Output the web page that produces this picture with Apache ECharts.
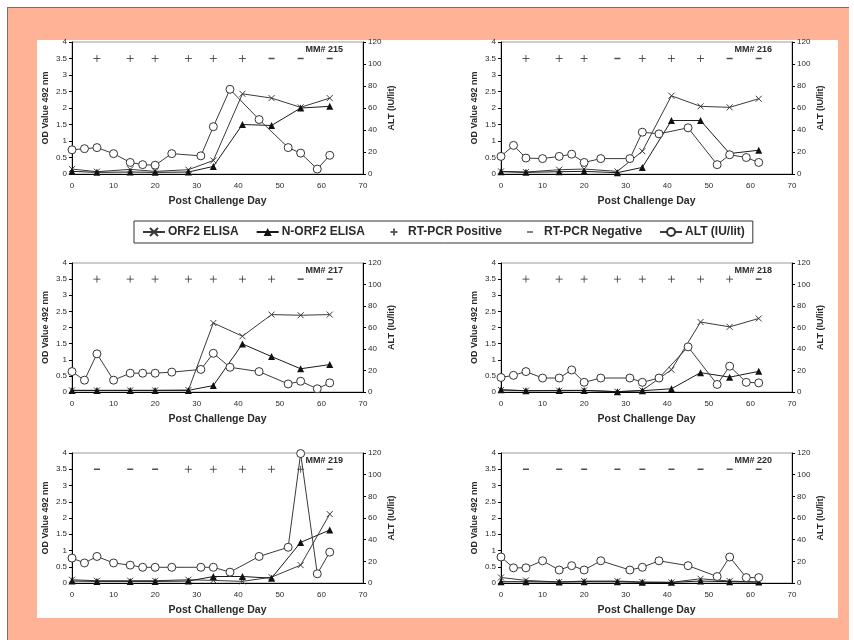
<!DOCTYPE html>
<html><head><meta charset="utf-8">
<script src="https://cdn.jsdelivr.net/npm/echarts@6/dist/echarts.min.js"></script>
<style>
html,body{margin:0;padding:0;background:#fff;width:854px;height:640px;overflow:hidden}
#frame{position:absolute;left:7px;top:7px;width:841px;height:633px;background:#FFB296;border-top:1px solid #7a6e66;border-left:1px solid #7a6e66}
#inner{position:absolute;left:37px;top:40px;width:801px;height:578px;background:#fff}
#chart{position:absolute;left:0;top:0;width:854px;height:640px}
</style></head><body>
<div id="frame"></div><div id="inner"></div><div id="chart"></div>
<script>
// ---- data ----
const altDays   = [0, 3, 6, 10, 14, 17, 20, 24, 31, 34, 38, 45, 52, 55, 59, 62];
const elisaDays = [0, 6, 14, 20, 28, 34, 41, 48, 55, 62];
const xTicks = [0, 10, 20, 30, 40, 50, 60, 70];

const alt215   = [22, 23, 24, 18.5, 10.5, 8.5, 8, 18.5, 16.5, 43, 77, 49.5, 24, 19, 4.5, 17];
const orf2_215 = [0.15, 0.07, 0.14, 0.08, 0.13, 0.41, 2.43, 2.3, 2.02, 2.3];
const norf2_215 = [0.08, 0.05, 0.06, 0.05, 0.06, 0.23, 1.5, 1.47, 2.0, 2.05];
const pos215 = [6, 14, 20, 28, 34, 41];
const neg215 = [48, 55, 62];

const alt216   = [16, 26, 14.5, 14, 16, 18, 10.5, 14, 14, 38, 36.5, 42, 8.5, 17.5, 15, 10.5];
const orf2_216 = [0.08, 0.06, 0.13, 0.15, 0.08, 0.69, 2.37, 2.05, 2.02, 2.28];
const norf2_216 = [0.07, 0.05, 0.07, 0.08, 0.04, 0.2, 1.62, 1.62, 0.62, 0.72];
const pos216 = [6, 14, 20, 34, 41, 48];
const neg216 = [28, 55, 62];

const alt217   = [19, 11, 35.5, 11, 17.5, 17.5, 17.5, 18.5, 21, 36, 23, 19, 7.5, 10, 3, 8.5];
const orf2_217 = [0.05, 0.05, 0.05, 0.05, 0.06, 2.14, 1.73, 2.4, 2.38, 2.4];
const norf2_217 = [0.05, 0.05, 0.05, 0.05, 0.05, 0.2, 1.49, 1.1, 0.72, 0.85];
const pos217 = [6, 14, 20, 28, 34, 41, 48];
const neg217 = [55, 62];

const alt218   = [13.5, 15.5, 19, 13, 13, 20.5, 9, 13, 13, 9, 13, 42, 7, 24, 9, 8.5];
const orf2_218 = [0.06, 0.04, 0.04, 0.05, 0.01, 0.05, 0.69, 2.17, 2.02, 2.28];
const norf2_218 = [0.07, 0.04, 0.05, 0.05, 0.01, 0.04, 0.1, 0.6, 0.46, 0.64];
const pos218 = [6, 14, 20, 28, 34, 41, 48, 55];
const neg218 = [62];

const alt219   = [23, 18.5, 24.5, 18.5, 16.5, 14.5, 14.5, 14.5, 14.5, 14.5, 10, 24.5, 33, 119.5, 8.5, 28.5];
const orf2_219 = [0.1, 0.07, 0.07, 0.07, 0.1, 0.08, 0.05, 0.18, 0.55, 2.12];
const norf2_219 = [0.06, 0.05, 0.05, 0.05, 0.06, 0.2, 0.2, 0.15, 1.25, 1.63];
const pos219 = [28, 34, 41, 48, 55];
const neg219 = [6, 14, 20, 62];

const alt220   = [24, 14, 14, 20.5, 12, 16, 12, 20.5, 12, 14.5, 20.5, 16, 6, 24, 5, 5];
const orf2_220 = [0.17, 0.08, 0.03, 0.06, 0.06, 0.03, 0.02, 0.13, 0.06, 0.03];
const norf2_220 = [0.04, 0.04, 0.03, 0.04, 0.04, 0.02, 0.02, 0.06, 0.04, 0.03];
const pos220 = [];
const neg220 = [6, 14, 20, 28, 34, 41, 48, 55, 62];

const pcrLevel = 3.5;

// ---- layout ----
const panels = [
  {title: 'MM# 215', left: 72,  top: 42,  height: 132, alt: alt215, orf2: orf2_215, norf2: norf2_215, pos: pos215, neg: neg215},
  {title: 'MM# 216', left: 501, top: 42,  height: 132, alt: alt216, orf2: orf2_216, norf2: norf2_216, pos: pos216, neg: neg216},
  {title: 'MM# 217', left: 72,  top: 263, height: 129, alt: alt217, orf2: orf2_217, norf2: norf2_217, pos: pos217, neg: neg217},
  {title: 'MM# 218', left: 501, top: 263, height: 129, alt: alt218, orf2: orf2_218, norf2: norf2_218, pos: pos218, neg: neg218},
  {title: 'MM# 219', left: 72,  top: 453, height: 130, alt: alt219, orf2: orf2_219, norf2: norf2_219, pos: pos219, neg: neg219},
  {title: 'MM# 220', left: 501, top: 453, height: 130, alt: alt220, orf2: orf2_220, norf2: norf2_220, pos: pos220, neg: neg220}
];
const W = 291;
const FONT = 'Arial, "Liberation Sans", sans-serif';
const INK = '#2a2a2a';
const crossPath = 'path://M0,0L10,10M10,0L0,10';
const plusPath = 'path://M5,0L5,10M0,5L10,5';
const minusPath = 'path://M0,0L10,0L10,1.6L0,1.6Z';
const plusIcon = 'path://M0,0M22,10M11,1.5L11,8.5M7.5,5L14.5,5';
const minusIcon = 'path://M0,0M22,10M8,4.3L14,4.3L14,5.7L8,5.7Z';

const grids = [], xAxes = [], yAxes = [], series = [], titles = [];
panels.forEach((p, i) => {
  grids.push({left: p.left, top: p.top, width: W, height: p.height, show: true,
    borderColor: '#9a9a9a', borderWidth: 1, backgroundColor: 'transparent', containLabel: false});
  titles.push({text: p.title, right: 854 - (p.left + W - 20), top: p.top + 3, padding: 0,
    textStyle: {fontSize: 9, fontWeight: 'bold', color: INK, fontFamily: FONT}});
  xAxes.push({gridIndex: i, type: 'value', min: 0, max: 70, interval: 10,
    axisLine: {onZero: false, lineStyle: {color: '#000', width: 1}},
    axisTick: {show: false}, splitLine: {show: false},
    axisLabel: {fontSize: 8, color: INK, margin: 8, fontFamily: FONT},
    name: 'Post Challenge Day', nameLocation: 'middle', nameGap: 22,
    nameTextStyle: {fontWeight: 'bold', fontSize: 10.5, color: INK, fontFamily: FONT}});
  yAxes.push({gridIndex: i, type: 'value', min: 0, max: 4, interval: 0.5, position: 'left',
    axisLine: {show: true, onZero: false, lineStyle: {color: '#000', width: 1}},
    axisTick: {show: true, length: 3, lineStyle: {color: '#000'}}, splitLine: {show: false},
    axisLabel: {fontSize: 8, color: INK, margin: 5, fontFamily: FONT},
    name: 'OD Value 492 nm', nameLocation: 'middle', nameGap: 22,
    nameTextStyle: {fontWeight: 'bold', fontSize: 9, color: INK, fontFamily: FONT}});
  yAxes.push({gridIndex: i, type: 'value', min: 0, max: 120, interval: 20, position: 'right',
    axisLine: {show: true, onZero: false, lineStyle: {color: '#000', width: 1}},
    axisTick: {show: true, length: 3, lineStyle: {color: '#000'}}, splitLine: {show: false},
    axisLabel: {fontSize: 8, color: INK, margin: 5, fontFamily: FONT},
    name: 'ALT (IU/lit)', nameLocation: 'middle', nameGap: 24,
    nameTextStyle: {fontWeight: 'bold', fontSize: 9, color: INK, fontFamily: FONT}});

  series.push({name: 'ORF2 ELISA', type: 'line', xAxisIndex: i, yAxisIndex: 2 * i,
    data: elisaDays.map((d, k) => [d, p.orf2[k]]),
    symbol: crossPath, symbolSize: 6, showAllSymbol: true,
    lineStyle: {color: '#3a3a3a', width: 1},
    itemStyle: {color: '#3a3a3a', borderColor: '#3a3a3a', borderWidth: 1}, z: 3});
  series.push({name: 'N-ORF2 ELISA', type: 'line', xAxisIndex: i, yAxisIndex: 2 * i,
    data: elisaDays.map((d, k) => [d, p.norf2[k]]),
    symbol: 'triangle', symbolSize: 7, showAllSymbol: true,
    lineStyle: {color: '#1a1a1a', width: 1},
    itemStyle: {color: '#111', borderColor: '#111', borderWidth: 0}, z: 3});
  series.push({name: 'RT-PCR Positive', type: 'scatter', xAxisIndex: i, yAxisIndex: 2 * i,
    data: p.pos.map(d => [d, pcrLevel]),
    symbol: plusPath, symbolSize: 7,
    itemStyle: {color: '#333', borderColor: '#333', borderWidth: 1}, z: 2});
  series.push({name: 'RT-PCR Negative', type: 'scatter', xAxisIndex: i, yAxisIndex: 2 * i,
    data: p.neg.map(d => [d, pcrLevel]),
    symbol: minusPath, symbolSize: [6, 1.5],
    itemStyle: {color: '#222', borderWidth: 0}, z: 2});
  series.push({name: 'ALT (IU/lit)', type: 'line', xAxisIndex: i, yAxisIndex: 2 * i + 1,
    data: altDays.map((d, k) => [d, p.alt[k]]),
    symbol: 'circle', symbolSize: 8, showAllSymbol: true,
    lineStyle: {color: '#3a3a3a', width: 1},
    itemStyle: {color: '#fff', borderColor: '#333', borderWidth: 1}, z: 4});
});

const chart = echarts.init(document.getElementById('chart'), null, {renderer: 'canvas'});
chart.setOption({
  animation: false,
  backgroundColor: 'transparent',
  title: titles,
  grid: grids,
  xAxis: xAxes,
  yAxis: yAxes,
  legend: {
    left: 134, top: 221, orient: 'horizontal',
    borderColor: '#333', borderWidth: 1, padding: [5, 8], backgroundColor: '#fff',
    itemWidth: 22, itemHeight: 10, itemGap: 17,
    textStyle: {fontSize: 12, fontWeight: 'bold', color: INK, fontFamily: FONT, padding: [0, 0, 0, -2]},
    selectedMode: false,
    data: [
      {name: 'ORF2 ELISA'},
      {name: 'N-ORF2 ELISA'},
      {name: 'RT-PCR Positive', icon: plusIcon},
      {name: 'RT-PCR Negative', icon: minusIcon},
      {name: 'ALT (IU/lit)'}
    ]
  },
  series: series
});
</script>
</body></html>
